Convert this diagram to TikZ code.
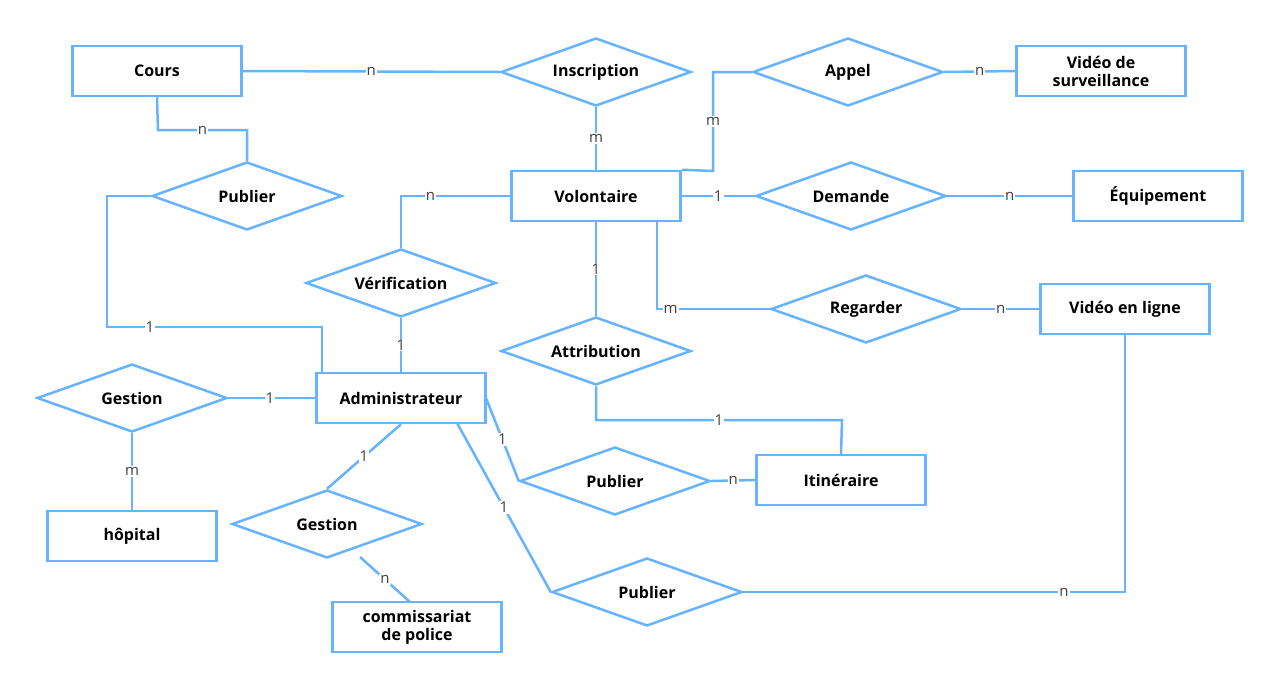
\documentclass[tikz,border=0pt]{standalone}
\usepackage{fontspec}
\setmainfont{Open Sans}
\usetikzlibrary{shapes.geometric}
\begin{document}
\begin{tikzpicture}[x=1pt,y=-1pt,
 ent/.style={draw=lb,line width=2.5pt,minimum width=169pt,minimum height=50pt,font=\fontsize{16}{18}\selectfont\bfseries,align=center,inner sep=0pt},
 rel/.style={draw=lb,line width=2.5pt,diamond,aspect=2.8,minimum width=190pt,minimum height=68pt,font=\fontsize{16}{18}\selectfont\bfseries,inner sep=0pt},
 ln/.style={draw=lb,line width=2.5pt},
 lab/.style={fill=white,inner sep=1pt,font=\fontsize{15}{16}\selectfont,text=black!75}]
\definecolor{lb}{HTML}{66B3FF}
\useasboundingbox (0,0) rectangle (1280,689);
\node[ent] (cours) at (157,71) {Cours};
\node[ent] (vsurv) at (1101,71) {Vidéo de\\surveillance};
\node[ent] (vol) at (596,196) {Volontaire};
\node[ent] (equip) at (1158,196) {Équipement};
\node[ent] (vlig) at (1125,309) {Vidéo en ligne};
\node[ent] (admin) at (401,398) {Administrateur};
\node[ent] (itin) at (841,480) {Itinéraire};
\node[ent] (hop) at (132,536) {hôpital};
\node[ent] (comm) at (417,627) {commissariat\\de police};
\node[rel] (insc) at (596,72) {Inscription};
\node[rel] (appel) at (848,72) {Appel};
\node[rel] (pub1) at (247,196) {Publier};
\node[rel] (dem) at (851,196) {Demande};
\node[rel] (verif) at (401,283) {Vérification};
\node[rel] (reg) at (866,309) {Regarder};
\node[rel] (attr) at (596,351) {Attribution};
\node[rel] (gest1) at (132,398) {Gestion};
\node[rel] (pub2) at (615,481) {Publier};
\node[rel] (gest2) at (327,524) {Gestion};
\node[rel] (pub3) at (647,592) {Publier};
\coordinate (vc) at (713,171);
\path[ln] (cours.east) -- node[lab]{n} (insc.west);
\path[ln] (insc.south) -- node[lab]{m} (vol.north);
\path[ln] (vol.north east) -- (vc) -- node[lab]{m} (713,72) -- (appel.west);
\path[ln] (appel.east) -- node[lab]{n} (vsurv.west);
\path[ln] (cours.south) -- (158,130) -- node[lab]{n} (247,130) -- (pub1.north);
\path[ln] (pub1.west) -- (107,196) -- (107,327) -- node[lab,pos=0.2]{1} (322,327) -- (322,373);
\path[ln] (vol.west) -- node[lab,pos=0.73]{n} (401,196) -- (verif.north);
\path[ln] (verif.south) -- node[lab]{1} (admin.north);
\path[ln] (vol.east) -- node[lab]{1} (dem.west);
\path[ln] (dem.east) -- node[lab]{n} (equip.west);
\path[ln] (657,221) -- (657,309) -- node[lab,pos=0.12]{m} (reg.west);
\path[ln] (reg.east) -- node[lab]{n} (vlig.west);
\path[ln] (vol.south) -- node[lab]{1} (attr.north);
\path[ln] (attr.south) -- (596,420) -- node[lab]{1} (842,420) -- (itin.north);
\path[ln] (gest1.east) -- node[lab,pos=0.48]{1} (admin.west);
\path[ln] (gest1.south) -- node[lab]{m} (hop.north);
\path[ln] (486,398) -- node[lab,pos=0.5]{1} (pub2.west);
\path[ln] (pub2.east) -- node[lab]{n} (itin.west);
\path[ln] (admin.south) -- node[lab]{1} (gest2.north);
\path[ln] (360,557) -- node[lab]{n} (410,602);
\path[ln] (457,423) -- node[lab]{1} (pub3.west);
\path[ln] (pub3.east) -- node[lab,pos=0.84]{n} (1125,592) -- (vlig.south);
\end{tikzpicture}
\end{document}
